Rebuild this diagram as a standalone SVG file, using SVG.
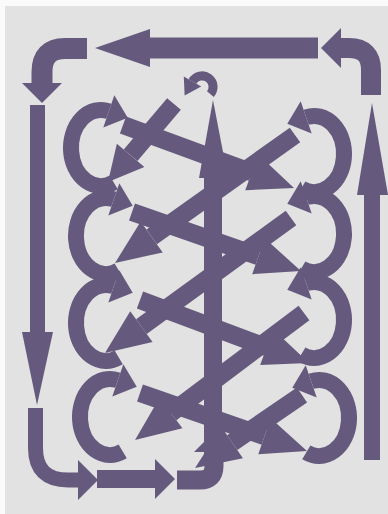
<svg xmlns="http://www.w3.org/2000/svg" width="388" height="514" viewBox="0 0 388 514">
<style>
.s{fill:none;stroke:#655a7d;stroke-linecap:butt;stroke-linejoin:miter}
.f{fill:#655a7d}
.w18{stroke-width:18}
.c{stroke-width:16}
</style>
<defs>
<marker id="h" markerUnits="userSpaceOnUse" orient="auto" overflow="visible" markerWidth="1" markerHeight="1"><path class="f" d="M0,-19 L45,0 L0,19 z"/></marker>
<marker id="hs" markerUnits="userSpaceOnUse" orient="auto" overflow="visible" markerWidth="1" markerHeight="1"><path class="f" d="M0,-18 L35,0 L0,18 z"/></marker>
<marker id="hc" markerUnits="userSpaceOnUse" orient="auto" overflow="visible" markerWidth="1" markerHeight="1"><path class="f" d="M0,-17 L20,0 L0,17 z"/></marker>
<marker id="hk" markerUnits="userSpaceOnUse" orient="auto" overflow="visible" markerWidth="1" markerHeight="1"><path class="f" d="M0,-10 L16,0 L0,10 z"/></marker>
<marker id="hT" markerUnits="userSpaceOnUse" orient="auto" overflow="visible" markerWidth="1" markerHeight="1"><path class="f" d="M0,-19 L55,0 L0,19 z"/></marker>
<marker id="hE" markerUnits="userSpaceOnUse" orient="auto" overflow="visible" markerWidth="1" markerHeight="1"><path class="f" d="M0,-20 L20,0 L0,20 z"/></marker>
</defs>
<rect width="388" height="514" fill="#e2e2e2"/>
<rect width="388" height="6" fill="#fafafa"/>
<rect width="5" height="514" fill="#fafafa"/>

<g id="connectors">
<g id="top-bar"><path class="s" stroke-width="21" d="M318,48 H150" marker-end="url(#hT)"/></g>
<g id="top-left-elbow"><path class="s" stroke-width="21" d="M87,48.5 H65 Q42,48.5 42,72 V83" marker-end="url(#hE)"/></g>
<g id="left-bar"><rect class="f" x="30" y="105" width="15" height="230"/><polygon class="f" points="22,332 53,332 37,405"/></g>
<g id="bottom-left-elbow"><path class="s" stroke-width="15" d="M35.5,408 V448 Q35.5,480 68,480 H78" marker-end="url(#hE)"/></g>
<g id="bottom-bar"><path class="s" stroke-width="18" d="M97,479 H155" marker-end="url(#hE)"/></g>
<g id="bottom-right-elbow"><path class="s" stroke-width="19" d="M177,480 H200 Q214,480 214,466 V452" marker-end="url(#hE)"/></g>
<g id="right-bar"><rect class="f" x="364" y="192" width="16" height="268"/><polygon class="f" points="357,195 388,195 372,103"/></g>
<g id="top-right-elbow"><path class="s" stroke-width="20" d="M371,95 V70 Q371,48 349,48 H341" marker-end="url(#hE)"/></g>

<g id="center-bar"><polygon class="f" points="213,100 199,178 228,178"/><rect class="f" x="204" y="176" width="18" height="286"/></g>
<g id="top-hook"><path class="s" stroke-width="9" d="M210.4,94.1 A11,11 0 1 0 192.5,81.5" marker-end="url(#hk)"/></g>

<path class="s w18" d="M123,125 L251.8,172.4" marker-end="url(#h)"/>
<path class="s w18" d="M132,212 L258.5,256.2" marker-end="url(#h)"/>
<path class="s w18" d="M140,300 L266.8,347.3" marker-end="url(#h)"/>
<path class="s w18" d="M140,393 L264.5,436.2" marker-end="url(#h)"/>

<path class="s w18" d="M174,104 L130.6,155.3" marker-end="url(#hs)"/>
<path class="s w18" d="M295,135 L151.7,236.9" marker-end="url(#h)"/>
<path class="s w18" d="M291,218 L141.4,326.6" marker-end="url(#h)"/>
<path class="s w18" d="M304,313 L171,413" marker-end="url(#h)"/>
<path class="s w18" d="M302,395 L232.2,442.6" marker-end="url(#h)"/>
</g>

<g id="left-loops">
<path id="cl1" class="s c" d="M113.7,182.4 A30,38 0 1 1 108.8,111.3" marker-end="url(#hc)"/>
<path id="cl2" class="s c" d="M118.7,270.4 A30,38 0 1 1 113.8,199.3" marker-end="url(#hc)"/>
<path id="cl3" class="s c" d="M118.7,357.4 A30,38 0 1 1 113.8,286.3" marker-end="url(#hc)"/>
<path id="cl4" class="s c" d="M122.7,451.4 A30,38 0 1 1 117.8,380.3" marker-end="url(#hc)"/>
</g>
<g id="right-loops">
<path id="cr1" class="s c" d="M301.3,188.4 A30,38 0 1 0 306.2,117.3" marker-end="url(#hc)"/>
<path id="cr2" class="s c" d="M301.3,268.4 A30,38 0 1 0 306.2,197.3" marker-end="url(#hc)"/>
<path id="cr3" class="s c" d="M301.3,354.4 A30,38 0 1 0 306.2,283.3" marker-end="url(#hc)"/>
<path id="cr4" class="s c" d="M306.3,452.4 A30,38 0 1 0 311.2,381.3" marker-end="url(#hc)"/>
</g>
</svg>
